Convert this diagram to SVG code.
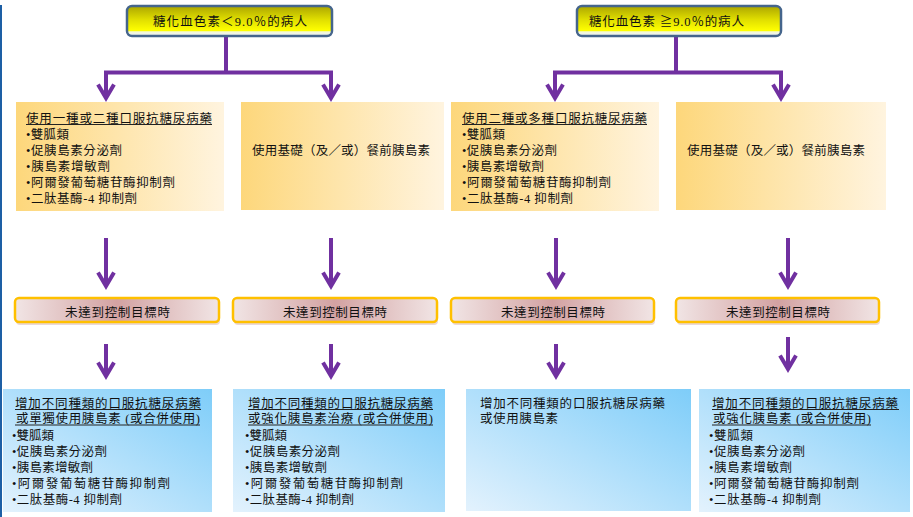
<svg xmlns="http://www.w3.org/2000/svg" width="913" height="517" viewBox="0 0 913 517">
<style>
text { font-family: "Liberation Serif", "Noto Sans CJK TC", serif; font-size: 12.5px; fill: #111; }
.tp { stroke: #45658c; stroke-width: 2.5; fill: url(#gTop); }
.y { fill: url(#gY); }
.p { fill: url(#gP); stroke: #ffc000; stroke-width: 2.5; }
.sh { fill: #ead8d8; }
.b { fill: url(#gB); }
.ul { stroke: #222; stroke-width: 1; }
.c { fill: none; stroke: #7030a0; stroke-width: 4; stroke-linejoin: miter; }
</style>
<defs>
<linearGradient id="gTop" x1="0" y1="0" x2="0" y2="1">
<stop offset="0" stop-color="#aca600"/>
<stop offset="0.45" stop-color="#e0de00"/>
<stop offset="0.82" stop-color="#ffff00"/>
<stop offset="0.86" stop-color="#f3f8d8"/>
<stop offset="1" stop-color="#eef2f4"/>
</linearGradient>
<linearGradient id="gY" x1="0" y1="0" x2="1" y2="0">
<stop offset="0" stop-color="#fdd77b"/>
<stop offset="1" stop-color="#fff4df"/>
</linearGradient>
<linearGradient id="gP" x1="0" y1="0" x2="1" y2="0">
<stop offset="0" stop-color="#f1e5e5"/>
<stop offset="0.5" stop-color="#d3a2a2"/>
<stop offset="1" stop-color="#f1e5e5"/>
</linearGradient>
<linearGradient id="gB" x1="0" y1="1" x2="1" y2="0">
<stop offset="0" stop-color="#e3f2fd"/>
<stop offset="1" stop-color="#7ecdf9"/>
</linearGradient>
<marker id="ah" markerUnits="userSpaceOnUse" viewBox="-20 -12 24 24" markerWidth="24" markerHeight="24" refX="0" refY="0" orient="auto" overflow="visible">
<path d="M-12.5,-8 L1,0 L-12.5,8" fill="none" stroke="#7030a0" stroke-width="4"/>
</marker>
</defs>

<rect x="0" y="5" width="2" height="512" fill="#1d5fa5"/>

<g id="connectors">
<path class="c" d="M226,36 V74"/>
<path class="c" d="M226,72.5 H106 V97" marker-end="url(#ah)"/>
<path class="c" d="M226,72.5 H331 V97" marker-end="url(#ah)"/>
<path class="c" d="M676,36 V74"/>
<path class="c" d="M676,72.5 H555 V97" marker-end="url(#ah)"/>
<path class="c" d="M676,72.5 H781 V97" marker-end="url(#ah)"/>
<path class="c" d="M106,238 V285" marker-end="url(#ah)"/>
<path class="c" d="M331,238 V285" marker-end="url(#ah)"/>
<path class="c" d="M556,238 V285" marker-end="url(#ah)"/>
<path class="c" d="M788,238 V285" marker-end="url(#ah)"/>
<path class="c" d="M106,344 V375" marker-end="url(#ah)"/>
<path class="c" d="M331,344 V375" marker-end="url(#ah)"/>
<path class="c" d="M556,344 V375" marker-end="url(#ah)"/>
<path class="c" d="M788,337 V368" marker-end="url(#ah)"/>
</g>

<g id="top-left">
<rect class="tp" x="127" y="6" width="205" height="30" rx="5"/>
<text x="153" y="25.5" textLength="154" lengthAdjust="spacing">糖化血色素＜9.0％的病人</text>
</g>
<g id="top-right">
<rect class="tp" x="577" y="6" width="204" height="30" rx="5"/>
<text x="589" y="25.5" textLength="155" lengthAdjust="spacing">糖化血色素 ≧9.0％的病人</text>
</g>

<g id="r1a">
<rect class="y" x="16" y="102" width="208" height="109"/>
<text x="26" y="122.5" textLength="186" lengthAdjust="spacing">使用一種或二種口服抗糖尿病藥</text>
<line class="ul" x1="26" y1="124.5" x2="212" y2="124.5"/>
<text x="26" y="138.5" textLength="43" lengthAdjust="spacing">•雙胍類</text>
<text x="26" y="154.5" textLength="96" lengthAdjust="spacing">•促胰島素分泌劑</text>
<text x="26" y="170.5" textLength="84" lengthAdjust="spacing">•胰島素增敏劑</text>
<text x="26" y="186.5" textLength="149" lengthAdjust="spacing">•阿爾發葡萄糖苷酶抑制劑</text>
<text x="26" y="202.5" textLength="111" lengthAdjust="spacing">•二肽基酶-4 抑制劑</text>
</g>
<g id="r1b">
<rect class="y" x="241" y="102" width="203" height="108"/>
<text x="252" y="154.5" textLength="178" lengthAdjust="spacing">使用基礎（及／或）餐前胰島素</text>
</g>
<g id="r1c">
<rect class="y" x="451" y="102" width="208" height="109"/>
<text x="462" y="122.5" textLength="185" lengthAdjust="spacing">使用二種或多種口服抗糖尿病藥</text>
<line class="ul" x1="462" y1="124.5" x2="647" y2="124.5"/>
<text x="462" y="138.5" textLength="43" lengthAdjust="spacing">•雙胍類</text>
<text x="462" y="154.5" textLength="95" lengthAdjust="spacing">•促胰島素分泌劑</text>
<text x="462" y="170.5" textLength="82" lengthAdjust="spacing">•胰島素增敏劑</text>
<text x="462" y="186.5" textLength="149" lengthAdjust="spacing">•阿爾發葡萄糖苷酶抑制劑</text>
<text x="462" y="202.5" textLength="111" lengthAdjust="spacing">•二肽基酶-4 抑制劑</text>
</g>
<g id="r1d">
<rect class="y" x="676" y="102" width="210" height="108"/>
<text x="687" y="154.5" textLength="178" lengthAdjust="spacing">使用基礎（及／或）餐前胰島素</text>
</g>

<g id="r2a">
<rect class="sh" x="16" y="301" width="204" height="24" rx="4"/>
<rect class="p" x="15" y="298" width="204" height="24" rx="4"/>
<text x="65" y="316.5" textLength="105" lengthAdjust="spacing">未達到控制目標時</text>
</g>
<g id="r2b">
<rect class="sh" x="234" y="301" width="204" height="24" rx="4"/>
<rect class="p" x="233" y="298" width="204" height="24" rx="4"/>
<text x="283" y="316.5" textLength="104" lengthAdjust="spacing">未達到控制目標時</text>
</g>
<g id="r2c">
<rect class="sh" x="452" y="301" width="203" height="24" rx="4"/>
<rect class="p" x="451" y="298" width="203" height="24" rx="4"/>
<text x="501" y="316.5" textLength="104" lengthAdjust="spacing">未達到控制目標時</text>
</g>
<g id="r2d">
<rect class="sh" x="677" y="301" width="203" height="24" rx="4"/>
<rect class="p" x="676" y="298" width="203" height="24" rx="4"/>
<text x="726" y="316.5" textLength="104" lengthAdjust="spacing">未達到控制目標時</text>
</g>

<g id="r3a">
<rect class="b" x="3" y="389" width="209" height="123"/>
<text x="15" y="407.5" textLength="186" lengthAdjust="spacing">增加不同種類的口服抗糖尿病藥</text>
<line class="ul" x1="15" y1="409.5" x2="201" y2="409.5"/>
<text x="16" y="422.5" textLength="184" lengthAdjust="spacing">或單獨使用胰島素 (或合併使用)</text>
<line class="ul" x1="15" y1="425" x2="200" y2="425"/>
<text x="12" y="439.5" textLength="42" lengthAdjust="spacing">•雙胍類</text>
<text x="12" y="455.5" textLength="95" lengthAdjust="spacing">•促胰島素分泌劑</text>
<text x="12" y="471.5" textLength="81" lengthAdjust="spacing">•胰島素增敏劑</text>
<text x="12" y="487.5" textLength="158" lengthAdjust="spacing">•阿爾發葡萄糖苷酶抑制劑</text>
<text x="12" y="503.5" textLength="110" lengthAdjust="spacing">•二肽基酶-4 抑制劑</text>
</g>
<g id="r3b">
<rect class="b" x="233" y="389" width="212" height="123"/>
<text x="248" y="407.5" textLength="185" lengthAdjust="spacing">增加不同種類的口服抗糖尿病藥</text>
<line class="ul" x1="248" y1="409.5" x2="433" y2="409.5"/>
<text x="248" y="422.5" textLength="185" lengthAdjust="spacing">或強化胰島素治療 (或合併使用)</text>
<line class="ul" x1="248" y1="425" x2="433" y2="425"/>
<text x="245" y="439.5" textLength="42" lengthAdjust="spacing">•雙胍類</text>
<text x="245" y="455.5" textLength="95" lengthAdjust="spacing">•促胰島素分泌劑</text>
<text x="245" y="471.5" textLength="82" lengthAdjust="spacing">•胰島素增敏劑</text>
<text x="245" y="487.5" textLength="158" lengthAdjust="spacing">•阿爾發葡萄糖苷酶抑制劑</text>
<text x="245" y="503.5" textLength="109" lengthAdjust="spacing">•二肽基酶-4 抑制劑</text>
</g>
<g id="r3c">
<rect class="b" x="466" y="389" width="225" height="122"/>
<text x="480" y="407.5" textLength="185" lengthAdjust="spacing">增加不同種類的口服抗糖尿病藥</text>
<text x="480" y="422.5" textLength="78" lengthAdjust="spacing">或使用胰島素</text>
</g>
<g id="r3d">
<rect class="b" x="699" y="389" width="211" height="123"/>
<text x="712" y="407.5" textLength="186" lengthAdjust="spacing">增加不同種類的口服抗糖尿病藥</text>
<line class="ul" x1="712" y1="409.5" x2="899" y2="409.5"/>
<text x="713" y="422.5" textLength="158" lengthAdjust="spacing">或強化胰島素 (或合併使用)</text>
<line class="ul" x1="712" y1="425" x2="871" y2="425"/>
<text x="709" y="439.5" textLength="44" lengthAdjust="spacing">•雙胍類</text>
<text x="709" y="455.5" textLength="96" lengthAdjust="spacing">•促胰島素分泌劑</text>
<text x="709" y="471.5" textLength="83" lengthAdjust="spacing">•胰島素增敏劑</text>
<text x="709" y="487.5" textLength="150" lengthAdjust="spacing">•阿爾發葡萄糖苷酶抑制劑</text>
<text x="709" y="503.5" textLength="112" lengthAdjust="spacing">•二肽基酶-4 抑制劑</text>
</g>
</svg>
